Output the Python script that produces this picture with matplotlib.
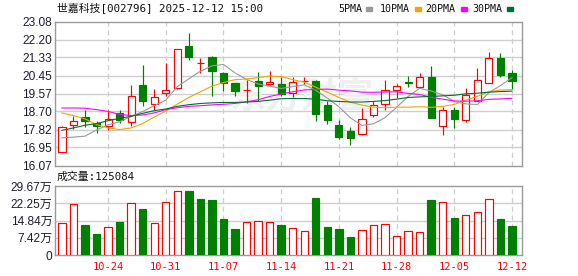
import matplotlib
matplotlib.use('Agg')
import matplotlib.pyplot as plt
from matplotlib.patches import Rectangle
import numpy as np

# ---------------- data ----------------
dates = ['10-20', '10-21', '10-22', '10-23', '10-24',
         '10-27', '10-28', '10-29', '10-30', '10-31',
         '11-03', '11-04', '11-05', '11-06', '11-07',
         '11-10', '11-11', '11-12', '11-13', '11-14',
         '11-17', '11-18', '11-19', '11-20', '11-21',
         '11-24', '11-25', '11-26', '11-27', '11-28',
         '12-01', '12-02', '12-03', '12-04', '12-05',
         '12-08', '12-09', '12-10', '12-11', '12-12']

opens = [16.74, 18.05, 18.43, 18.12, 18.01, 18.63, 18.19, 19.98, 19.06, 19.59,
         19.83, 21.88, 21.05, 21.36, 20.59, 20.07, 19.73, 20.20, 20.03, 20.04,
         19.59, 20.18, 20.19, 19.03, 18.05, 17.77, 17.61, 18.51, 19.07, 19.74,
         20.12, 19.88, 20.38, 17.98, 18.79, 18.29, 19.23, 20.07, 21.28, 20.59]
highs = [17.98, 18.50, 18.75, 18.22, 18.78, 18.78, 19.99, 20.96, 19.80, 21.07,
         21.75, 22.52, 21.28, 21.39, 20.60, 20.08, 20.23, 20.63, 20.67, 20.36,
         20.39, 20.36, 20.23, 19.19, 18.30, 17.95, 18.87, 19.19, 20.23, 20.04,
         20.43, 20.59, 20.91, 18.92, 18.94, 19.85, 20.83, 21.60, 21.55, 20.72]
lows = [16.72, 17.85, 17.93, 17.66, 17.82, 18.12, 18.01, 18.95, 18.75, 19.46,
        19.80, 21.20, 20.59, 19.43, 19.70, 19.43, 19.11, 19.22, 19.99, 19.43,
        19.40, 20.04, 18.22, 18.11, 17.38, 17.06, 17.54, 18.41, 18.75, 19.35,
        19.91, 19.88, 18.36, 17.54, 17.88, 18.17, 19.23, 20.07, 20.36, 19.80]
closes = [17.95, 18.24, 18.22, 17.99, 18.34, 18.30, 19.45, 19.23, 19.40, 19.75,
          21.72, 21.36, 21.07, 20.69, 20.10, 19.70, 19.74, 19.96, 20.14, 19.56,
          20.14, 20.20, 18.59, 18.27, 17.45, 17.43, 18.35, 19.01, 19.75, 19.94,
          20.10, 20.36, 18.36, 18.79, 18.32, 19.50, 20.22, 21.28, 20.48, 20.20]

# volume in 万 (10k)
volumes = [13.9, 22.1, 13.0, 9.1, 12.0, 14.3, 22.4, 20.0, 13.9, 22.9,
           27.6, 27.8, 24.3, 23.9, 15.6, 11.3, 14.3, 14.6, 14.3, 13.0,
           11.6, 10.4, 24.7, 12.2, 11.3, 7.8, 10.9, 12.9, 13.3, 8.1,
           10.4, 10.0, 23.9, 22.9, 16.1, 17.2, 18.5, 24.2, 15.6, 12.51]

ma5 = [17.42, 17.45, 17.50, 17.80, 18.05, 18.20, 18.46, 18.70, 18.98, 19.25,
       19.91, 20.29, 20.66, 20.92, 20.99, 20.58, 20.26, 20.04, 19.93, 19.82,
       19.91, 20.00, 19.73, 19.35, 18.93, 18.39, 18.02, 18.10, 18.40, 18.90,
       19.43, 19.83, 19.70, 19.51, 19.19, 19.07, 19.04, 19.62, 19.96, 20.34]
ma10 = [18.63, 18.50, 18.34, 18.06, 17.90, 17.82, 17.90, 18.11, 18.43, 18.72,
        19.06, 19.38, 19.66, 19.93, 20.11, 20.25, 20.28, 20.35, 20.42, 20.40,
        20.25, 20.13, 19.88, 19.64, 19.38, 19.15, 19.01, 18.91, 18.88, 18.91,
        18.91, 18.93, 18.90, 18.95, 19.04, 19.25, 19.44, 19.66, 19.74, 19.76]
ma20 = [18.87, 18.87, 18.86, 18.79, 18.70, 18.56, 18.50, 18.53, 18.63, 18.79,
        18.88, 18.95, 18.98, 19.02, 19.05, 19.09, 19.17, 19.27, 19.43, 19.55,
        19.66, 19.75, 19.77, 19.79, 19.74, 19.70, 19.64, 19.63, 19.65, 19.66,
        19.58, 19.53, 19.39, 19.30, 19.21, 19.20, 19.22, 19.29, 19.31, 19.34]
ma30 = [17.78, 17.90, 18.03, 18.11, 18.25, 18.37, 18.46, 18.61, 18.74, 18.82,
        18.95, 19.03, 19.09, 19.12, 19.14, 19.14, 19.16, 19.19, 19.25, 19.32,
        19.33, 19.33, 19.30, 19.22, 19.19, 19.16, 19.16, 19.19, 19.23, 19.30,
        19.38, 19.41, 19.43, 19.46, 19.49, 19.56, 19.59, 19.64, 19.67, 19.69]

price_ticks = [16.07, 16.95, 17.82, 18.70, 19.57, 20.45, 21.33, 22.20, 23.08]
price_tick_labels = ['16.07', '16.95', '17.82', '18.70', '19.57', '20.45', '21.33', '22.20', '23.08']
vol_ticks = [0, 7.42, 14.84, 22.25, 29.67]
vol_tick_labels = ['0', '7.42万', '14.84万', '22.25万', '29.67万']
date_ticks = ['10-24', '10-31', '11-07', '11-14', '11-21', '11-28', '12-05', '12-12']

title = '世嘉科技[002796] 2025-12-12 15:00'
vol_title = '成交量:125084'
ma_names = ['5PMA', '10PMA', '20PMA', '30PMA']

# ---------------- style ----------------
RED = '#ff0000'
GREEN = '#008000'
MA_COLORS = ['#9a9a9a', '#f5a300', '#ff00ff', '#006f35']
GRID = '#cfcfcf'
SPINE = '#9a9a9a'
TXT = '#1e1e2e'
CJK = 'Noto Sans CJK SC'
MONO = ['DejaVu Sans Mono', CJK]
SANS = ['Liberation Sans', CJK]
LW = 0.85

W, H = 578, 276
fig = plt.figure(figsize=(W / 100, H / 100), dpi=100)
fig.patch.set_facecolor('white')


def fax(l, t, r, b):
    return fig.add_axes([l / W, 1 - b / H, (r - l) / W, (b - t) / H])


ax1 = fax(55, 21.5, 522, 165.5)
ax2 = fax(55, 186.3, 522, 255)

n = len(closes)
x = np.arange(n)
o = np.array(opens)
h = np.array(highs)
lo = np.array(lows)
c = np.array(closes)
up = c >= o
prev = np.concatenate([[c[0] - 1], c[:-1]])
vol_up = c >= prev

xlim = (-0.6, n - 1 + 0.87)
date_idx = [dates.index(d) for d in date_ticks]

for ax in (ax1, ax2):
    ax.set_xlim(*xlim)
    for s in ax.spines.values():
        s.set_color(SPINE)
        s.set_linewidth(1.0)
    ax.tick_params(length=0)
    for xi in date_idx:
        ax.axvline(xi, color=GRID, lw=0.9, ls=(0, (4, 3)), zorder=0)

# ---- price panel ----
ax1.set_ylim(price_ticks[0], price_ticks[-1])
for yv in price_ticks[1:-1]:
    ax1.axhline(yv, color=GRID, lw=1.0, zorder=0)
ax1.set_yticks(price_ticks)
ax1.set_yticklabels(price_tick_labels, family=SANS, fontsize=8.6, color=TXT)
ax1.tick_params(axis='y', pad=2)
ax1.set_xticks([])

ax1.text(20.8, 19.40, '东方财富', family=CJK, fontsize=26, fontweight='bold',
         color='#efefef', ha='center', va='center', zorder=0.5, style='italic')

bw = 0.62
col = np.where(up, RED, GREEN)
ax1.vlines(x, lo, h, colors=col, lw=LW, zorder=2)
bottom = np.minimum(o, c)
height = np.abs(c - o)
ax1.bar(x[up], height[up], bottom=bottom[up], width=bw, facecolor='white',
        edgecolor=RED, linewidth=LW, zorder=3)
ax1.bar(x[~up], height[~up], bottom=bottom[~up], width=bw, facecolor=GREEN,
        edgecolor=GREEN, linewidth=LW, zorder=3)

for ma, colr in zip([ma5, ma10, ma20, ma30], MA_COLORS):
    ax1.plot(x, ma, color=colr, lw=0.8, zorder=4)

# ---- volume panel ----
ax2.set_ylim(vol_ticks[0], vol_ticks[-1])
for yv in vol_ticks[1:-1]:
    ax2.axhline(yv, color=GRID, lw=1.0, zorder=0)
ax2.set_yticks(vol_ticks)
ax2.set_yticklabels(vol_tick_labels, family=SANS, fontsize=8.6, color=TXT)
ax2.tick_params(axis='y', pad=2)
v = np.array(volumes)
ax2.bar(x[vol_up], v[vol_up], width=0.64, facecolor='white', edgecolor=RED,
        linewidth=LW, zorder=3)
ax2.bar(x[~vol_up], v[~vol_up], width=0.64, facecolor=GREEN, edgecolor=GREEN,
        linewidth=LW, zorder=3)
ax2.set_xticks(date_idx)
ax2.set_xticklabels(date_ticks, family=MONO, fontsize=7.5, color=RED)
ax2.tick_params(axis='x', pad=5)

# ---- texts ----
fig.text(57 / W, 1 - 9 / H, title, family=MONO, fontsize=7.8, color='#111111',
         ha='left', va='center')
fig.text(57 / W, 1 - 177 / H, vol_title, family=MONO, fontsize=7.8, color='#111111',
         ha='left', va='center')

leg_x = [338, 380, 425, 472]
mark_x = [366, 415, 461, 507]
for name, lx, mx, colr in zip(ma_names, leg_x, mark_x, MA_COLORS):
    fig.text(lx / W, 1 - 9 / H, name, family=MONO, fontsize=7.2, color='#111111',
             ha='left', va='center')
    fig.patches.append(Rectangle((mx / W, 1 - 11 / H), 6 / W, 4 / H,
                                 transform=fig.transFigure, color=colr))

fig.savefig('out.png', dpi=100, facecolor='white')
